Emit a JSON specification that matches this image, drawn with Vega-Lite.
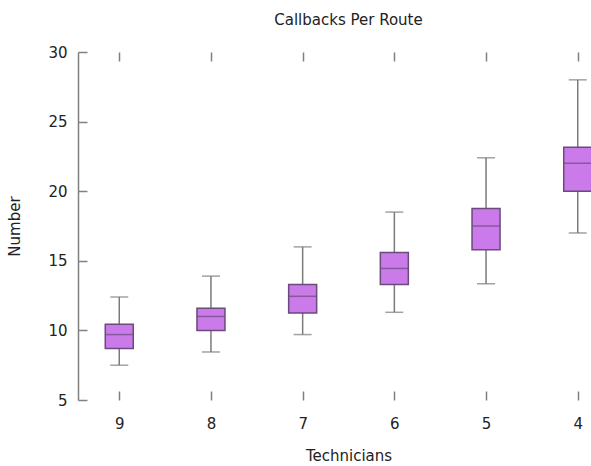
{
  "$schema": "https://vega.github.io/schema/vega-lite/v6.json",
  "autosize": "none",
  "padding": {"left": 78, "top": 52, "right": 0, "bottom": 66},
  "width": 541,
  "height": 348,
  "background": "white",
  "title": {"text": "Callbacks Per Route", "font": "DejaVu Sans", "fontSize": 15, "fontWeight": "normal", "color": "#222222", "offset": 17, "anchor": "middle"},
  "config": {
    "view": {"stroke": null},
    "axis": {"labelFont": "DejaVu Sans", "titleFont": "DejaVu Sans", "labelFontSize": 15, "titleFontSize": 15, "titleFontWeight": "normal", "labelColor": "#222222", "titleColor": "#222222", "grid": false, "tickColor": "#808080", "domainColor": "#808080", "tickWidth": 1.5, "domainWidth": 1.5}
  },
  "data": {"values": [
    {"tech": "9", "lower": 7.5, "q1": 8.7, "median": 9.7, "q3": 10.45, "upper": 12.4},
    {"tech": "8", "lower": 8.45, "q1": 10.0, "median": 11.0, "q3": 11.6, "upper": 13.9},
    {"tech": "7", "lower": 9.7, "q1": 11.25, "median": 12.45, "q3": 13.3, "upper": 16.0},
    {"tech": "6", "lower": 11.3, "q1": 13.3, "median": 14.45, "q3": 15.6, "upper": 18.5},
    {"tech": "5", "lower": 13.35, "q1": 15.8, "median": 17.5, "q3": 18.75, "upper": 22.4},
    {"tech": "4", "lower": 17.0, "q1": 20.0, "median": 22.0, "q3": 23.15, "upper": 28.0}
  ]},
  "resolve": {"axis": {"x": "independent"}},
  "layer": [
    {
      "mark": {"type": "rule", "color": "#7a7a7a", "strokeWidth": 1.5},
      "encoding": {
        "x": {"field": "tech", "type": "ordinal", "scale": {"type": "point", "padding": 0.45, "domain": ["9", "8", "7", "6", "5", "4"]},
              "axis": {"orient": "bottom", "title": "Technicians", "labelAngle": 0, "domain": false, "tickSize": -9, "labelPadding": 25, "titlePadding": 17}},
        "y": {"field": "lower", "type": "quantitative", "scale": {"domain": [5, 30], "nice": false, "zero": false},
              "axis": {"title": "Number", "values": [5, 10, 15, 20, 25, 30], "tickSize": -9, "labelPadding": 20, "titlePadding": 25}},
        "y2": {"field": "upper"}
      }
    },
    {
      "mark": {"type": "tick", "color": "#7a7a7a", "thickness": 1.5, "size": 18},
      "encoding": {
        "x": {"field": "tech", "type": "ordinal", "axis": null},
        "y": {"field": "lower", "type": "quantitative"}
      }
    },
    {
      "mark": {"type": "tick", "color": "#7a7a7a", "thickness": 1.5, "size": 18},
      "encoding": {
        "x": {"field": "tech", "type": "ordinal", "axis": null},
        "y": {"field": "upper", "type": "quantitative"}
      }
    },
    {
      "mark": {"type": "bar", "size": 28, "fill": "#cb7ae9", "stroke": "#6b4a7c", "strokeWidth": 1.5},
      "encoding": {
        "x": {"field": "tech", "type": "ordinal", "axis": null},
        "y": {"field": "q1", "type": "quantitative"},
        "y2": {"field": "q3"}
      }
    },
    {
      "mark": {"type": "tick", "color": "#6b4a7c", "thickness": 1.5, "size": 28},
      "encoding": {
        "x": {"field": "tech", "type": "ordinal", "axis": {"orient": "top", "title": null, "labels": false, "domain": false, "tickSize": -9}},
        "y": {"field": "median", "type": "quantitative"}
      }
    }
  ]
}
